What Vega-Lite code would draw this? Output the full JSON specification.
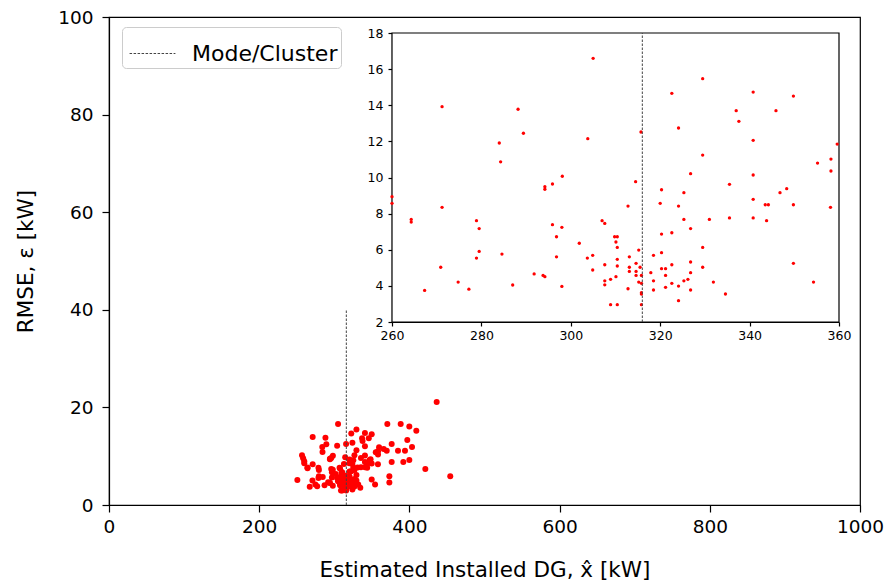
{
  "$schema": "https://vega.github.io/schema/vega-lite/v6.json",
  "width": 751,
  "height": 488,
  "autosize": {"type": "none"},
  "padding": {"left": 109, "top": 17, "right": 28, "bottom": 81},
  "background": "white",
  "config": {
    "font": "DejaVu Sans",
    "view": {"stroke": "#000", "strokeWidth": 1.2},
    "axis": {
      "grid": false,
      "domainColor": "#000",
      "domainWidth": 1.2,
      "tickColor": "#000",
      "tickWidth": 1.2,
      "labelColor": "#000",
      "titleColor": "#000",
      "titleFontWeight": "normal",
      "labelFlush": false,
      "labelOverlap": false,
      "labelBound": false
    }
  },
  "datasets": {
    "points": [
      {"x": 271.2, "y": 13.92}, {"x": 305.0, "y": 16.6}, {"x": 288.2, "y": 13.78}, {"x": 289.4, "y": 12.45},
      {"x": 284.0, "y": 11.91}, {"x": 303.8, "y": 12.15}, {"x": 284.3, "y": 10.87}, {"x": 298.1, "y": 10.07},
      {"x": 295.9, "y": 9.64}, {"x": 329.5, "y": 15.47}, {"x": 322.6, "y": 14.66}, {"x": 340.8, "y": 14.73},
      {"x": 349.8, "y": 14.51}, {"x": 337.0, "y": 13.7}, {"x": 345.9, "y": 13.7}, {"x": 337.6, "y": 13.11},
      {"x": 324.1, "y": 12.74}, {"x": 315.7, "y": 12.52}, {"x": 340.8, "y": 12.06}, {"x": 359.6, "y": 11.85},
      {"x": 329.5, "y": 11.24}, {"x": 355.2, "y": 10.8}, {"x": 358.2, "y": 11.02}, {"x": 358.2, "y": 10.36},
      {"x": 326.8, "y": 10.21}, {"x": 340.8, "y": 10.14}, {"x": 314.5, "y": 9.77}, {"x": 335.5, "y": 9.62},
      {"x": 260.0, "y": 8.94}, {"x": 260.0, "y": 8.57}, {"x": 271.2, "y": 8.35}, {"x": 264.3, "y": 7.68},
      {"x": 264.3, "y": 7.53}, {"x": 278.9, "y": 7.61}, {"x": 279.5, "y": 7.17}, {"x": 279.5, "y": 5.91},
      {"x": 278.9, "y": 5.54}, {"x": 284.6, "y": 5.76}, {"x": 270.9, "y": 5.03}, {"x": 274.8, "y": 4.21},
      {"x": 267.3, "y": 3.75}, {"x": 277.2, "y": 3.82}, {"x": 287.0, "y": 4.05}, {"x": 291.8, "y": 4.66},
      {"x": 293.8, "y": 4.58}, {"x": 294.2, "y": 4.51}, {"x": 298.0, "y": 3.97}, {"x": 294.2, "y": 9.49},
      {"x": 294.2, "y": 9.35}, {"x": 295.9, "y": 7.39}, {"x": 298.0, "y": 7.24}, {"x": 296.8, "y": 6.72},
      {"x": 296.8, "y": 5.61}, {"x": 301.9, "y": 6.36}, {"x": 303.7, "y": 5.54}, {"x": 304.9, "y": 5.69},
      {"x": 304.9, "y": 4.88}, {"x": 307.0, "y": 7.61}, {"x": 307.6, "y": 7.46}, {"x": 307.6, "y": 5.17},
      {"x": 307.6, "y": 4.28}, {"x": 307.6, "y": 4.06}, {"x": 308.9, "y": 4.36}, {"x": 308.9, "y": 2.96},
      {"x": 320.3, "y": 9.32}, {"x": 325.3, "y": 9.16}, {"x": 346.8, "y": 9.16}, {"x": 348.3, "y": 9.38},
      {"x": 340.8, "y": 8.79}, {"x": 320.0, "y": 8.57}, {"x": 324.1, "y": 8.42}, {"x": 312.8, "y": 8.42},
      {"x": 343.5, "y": 8.49}, {"x": 344.2, "y": 8.49}, {"x": 349.8, "y": 8.49}, {"x": 358.1, "y": 8.35},
      {"x": 325.3, "y": 7.68}, {"x": 331.0, "y": 7.68}, {"x": 335.5, "y": 7.76}, {"x": 340.8, "y": 7.76},
      {"x": 343.8, "y": 7.61}, {"x": 326.8, "y": 7.17}, {"x": 322.6, "y": 6.94}, {"x": 320.3, "y": 6.87},
      {"x": 309.8, "y": 6.72}, {"x": 310.4, "y": 6.72}, {"x": 310.1, "y": 6.43}, {"x": 310.4, "y": 6.13},
      {"x": 329.5, "y": 6.13}, {"x": 315.2, "y": 5.98}, {"x": 320.3, "y": 5.84}, {"x": 318.5, "y": 5.69},
      {"x": 313.1, "y": 5.61}, {"x": 310.4, "y": 5.47}, {"x": 326.8, "y": 5.32}, {"x": 349.8, "y": 5.25},
      {"x": 314.6, "y": 5.25}, {"x": 322.6, "y": 5.17}, {"x": 310.4, "y": 5.1}, {"x": 313.1, "y": 5.03},
      {"x": 315.5, "y": 5.03}, {"x": 320.3, "y": 4.95}, {"x": 321.2, "y": 4.95}, {"x": 329.5, "y": 5.03},
      {"x": 313.1, "y": 4.8}, {"x": 314.6, "y": 4.8}, {"x": 317.9, "y": 4.73}, {"x": 326.8, "y": 4.73},
      {"x": 310.1, "y": 4.51}, {"x": 314.6, "y": 4.58}, {"x": 315.8, "y": 4.58}, {"x": 321.2, "y": 4.58},
      {"x": 318.5, "y": 4.28}, {"x": 325.3, "y": 4.28}, {"x": 326.2, "y": 4.36}, {"x": 331.9, "y": 4.21},
      {"x": 354.3, "y": 4.21}, {"x": 315.2, "y": 4.21}, {"x": 315.8, "y": 4.14}, {"x": 322.6, "y": 4.14},
      {"x": 324.1, "y": 3.99}, {"x": 312.8, "y": 3.84}, {"x": 318.5, "y": 3.77}, {"x": 321.2, "y": 3.92},
      {"x": 326.8, "y": 3.77}, {"x": 315.8, "y": 3.62}, {"x": 315.8, "y": 3.55}, {"x": 334.6, "y": 3.55},
      {"x": 324.1, "y": 3.18}, {"x": 310.4, "y": 2.96}, {"x": 315.8, "y": 2.96},
      {"x": 250.8, "y": 5.1}, {"x": 257.0, "y": 10.2}, {"x": 258.5, "y": 9.6},
      {"x": 370.6, "y": 16.6}, {"x": 388.4, "y": 16.6}, {"x": 399.9, "y": 16.1}, {"x": 409.2, "y": 15.2},
      {"x": 397.2, "y": 13.3}, {"x": 403.5, "y": 11.9}, {"x": 376.4, "y": 12.5}, {"x": 384.8, "y": 11.1},
      {"x": 394.1, "y": 11.1}, {"x": 369.8, "y": 11.1}, {"x": 365.8, "y": 11.5}, {"x": 376.4, "y": 8.8},
      {"x": 391.9, "y": 8.8}, {"x": 399.9, "y": 9.2}, {"x": 421.2, "y": 7.4}, {"x": 454.4, "y": 5.9},
      {"x": 373.3, "y": 5.9}, {"x": 373.3, "y": 4.6}, {"x": 436.3, "y": 21.1}
    ],
    "mode_main": [{"x": 316, "y": 0, "y2": 40, "label": "Mode/Cluster"}],
    "mode_inset": [{"x": 316, "y": 2, "y2": 18}],
    "frame": [{"x": 260, "x2": 360, "y": 2, "y2": 18}]
  },
  "layer": [
    {
      "layer": [
        {
          "data": {"name": "points"},
          "mark": {"type": "circle", "color": "#ff0000", "opacity": 1, "size": 36},
          "encoding": {
            "x": {"field": "x", "type": "quantitative",
                  "scale": {"domain": [0, 1000], "nice": false, "zero": false},
                  "axis": {"values": [0, 200, 400, 600, 800, 1000], "format": "d", "title": "Estimated Installed DG, x̂ [kW]",
                           "labelFontSize": 18.5, "titleFontSize": 21.5, "tickSize": 7, "labelPadding": 5, "titlePadding": 24}},
            "y": {"field": "y", "type": "quantitative",
                  "scale": {"domain": [0, 100], "nice": false, "zero": false},
                  "axis": {"values": [0, 20, 40, 60, 80, 100], "title": "RMSE, ε [kW]",
                           "labelFontSize": 18.5, "titleFontSize": 21.5, "tickSize": 7, "labelPadding": 9, "titlePadding": 20}}
          }
        },
        {
          "data": {"name": "mode_main"},
          "mark": {"type": "rule", "color": "#444444", "strokeWidth": 1},
          "encoding": {
            "x": {"field": "x", "type": "quantitative"},
            "y": {"field": "y", "type": "quantitative"},
            "y2": {"field": "y2"},
            "strokeDash": {"field": "label", "type": "nominal",
              "scale": {"range": [[2.5, 1.5]]},
              "legend": {"title": null, "orient": "none", "legendX": 13, "legendY": 10,
                         "symbolType": "stroke", "symbolSize": 2100, "symbolStrokeWidth": 1,
                         "symbolStrokeColor": "#444444", "symbolDash": [2.5, 1.5], "symbolOffset": 4,
                         "labelFontSize": 22, "labelColor": "#000", "labelOffset": 16, "labelLimit": 400,
                         "padding": 3, "strokeColor": "#cccccc", "cornerRadius": 4, "fillColor": "#ffffff"}}
          }
        }
      ]
    },
    {
      "layer": [
        {
          "data": {"name": "frame"},
          "mark": {"type": "rect", "fill": "#ffffff", "stroke": "#000", "strokeWidth": 1.2},
          "encoding": {
            "x": {"field": "x", "type": "quantitative",
                  "scale": {"domain": [260, 360], "range": [283, 730], "nice": false, "zero": false},
                  "axis": {"orient": "bottom", "offset": -183, "values": [260, 280, 300, 320, 340, 360], "title": null,
                           "labelFontSize": 12.5, "tickSize": 4, "labelPadding": 3}},
            "x2": {"field": "x2"},
            "y": {"field": "y", "type": "quantitative",
                  "scale": {"domain": [2, 18], "range": [305, 16], "nice": false, "zero": false},
                  "axis": {"orient": "left", "offset": -283, "values": [2, 4, 6, 8, 10, 12, 14, 16, 18], "title": null,
                           "labelFontSize": 12.5, "tickSize": 4, "labelPadding": 5}},
            "y2": {"field": "y2"}
          }
        },
        {
          "data": {"name": "points"},
          "transform": [{"filter": "datum.x >= 260 && datum.x <= 360 && datum.y >= 2 && datum.y <= 18"}],
          "mark": {"type": "circle", "color": "#ff0000", "opacity": 1, "size": 11},
          "encoding": {
            "x": {"field": "x", "type": "quantitative"},
            "y": {"field": "y", "type": "quantitative"}
          }
        },
        {
          "data": {"name": "mode_inset"},
          "mark": {"type": "rule", "color": "#444444", "strokeWidth": 1, "strokeDash": [2.5, 1.5]},
          "encoding": {
            "x": {"field": "x", "type": "quantitative"},
            "y": {"field": "y", "type": "quantitative"},
            "y2": {"field": "y2"}
          }
        }
      ]
    }
  ],
  "resolve": {
    "scale": {"x": "independent", "y": "independent"},
    "axis": {"x": "independent", "y": "independent"}
  }
}
